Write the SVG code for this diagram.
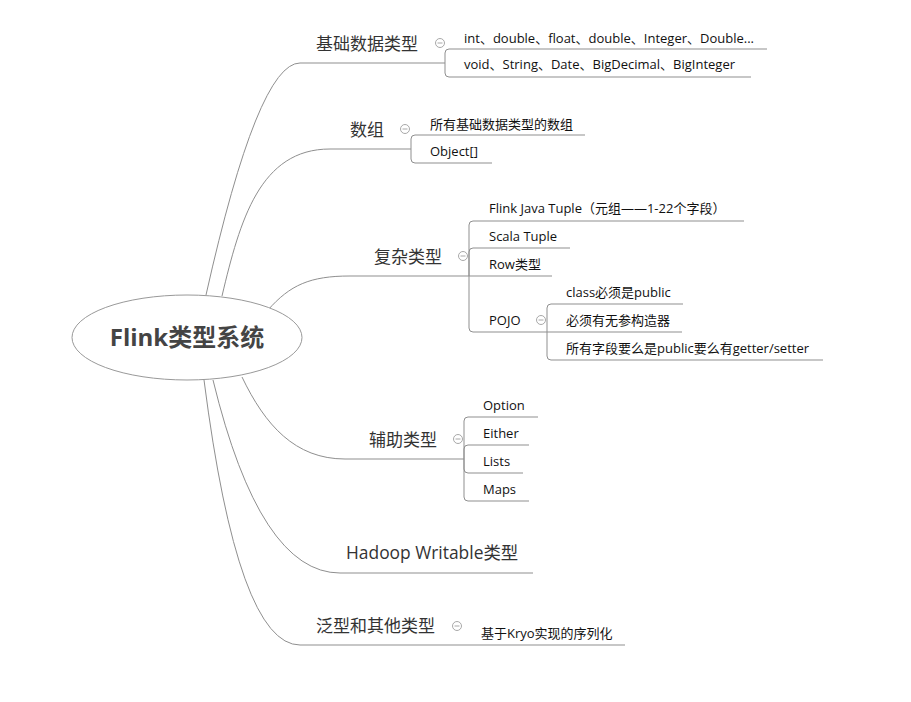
<svg xmlns="http://www.w3.org/2000/svg" width="911" height="702" viewBox="0 0 911 702">
<style>
.c{fill:none;stroke:#8f8f8f;stroke-width:1}
.t{font-family:"Open Sans","Noto Sans CJK SC",sans-serif;font-size:17px;fill:#333}
.s{font-family:"Open Sans","Noto Sans CJK SC",sans-serif;font-size:13px;fill:#111}
.m{font-family:"Open Sans","Noto Sans CJK SC",sans-serif;font-size:24px;font-weight:bold;fill:#444}
.k{fill:#fff;stroke:#a8a8a8;stroke-width:1}
.kl{stroke:#a8a8a8;stroke-width:1}
</style>
<defs>
<g id="col"><circle class="k" cx="0" cy="0" r="4.5"/><line class="kl" x1="-2.5" y1="0" x2="2.5" y2="0"/></g>
</defs>
<rect width="911" height="702" fill="#fff"/>
<g id="connectors">
<path class="c" d="M206,295 Q258,63 300,63 H445"/>
<path class="c" d="M222,296 C240,220 260,149 330,149 H411"/>
<path class="c" d="M268,310 C290,285 310,276 350,276 H469"/>
<path class="c" d="M242,377 C265,425 295,459 345,459 H464"/>
<path class="c" d="M213,380 Q260,573 340,573 H533"/>
<path class="c" d="M204,380 Q238,645 300,645 H625"/>
<path class="c" d="M445,63 V53 Q445,49 449,49 H767"/>
<path class="c" d="M445,63 V73 Q445,77 449,77 H751"/>
<path class="c" d="M411,149 V139 Q411,135 415,135 H585"/>
<path class="c" d="M411,149 V159 Q411,163 415,163 H492"/>
<path class="c" d="M469,276 V225 Q469,221 473,221 H744"/>
<path class="c" d="M469,276 V252 Q469,248 473,248 H570"/>
<path class="c" d="M469,276 H552"/>
<path class="c" d="M469,276 V328 Q469,332 473,332 H547"/>
<path class="c" d="M547,332 V308 Q547,304 551,304 H683"/>
<path class="c" d="M547,332 H682"/>
<path class="c" d="M547,332 V356 Q547,360 551,360 H823"/>
<path class="c" d="M464,459 V421 Q464,417 468,417 H538"/>
<path class="c" d="M464,459 V449 Q464,445 468,445 H529"/>
<path class="c" d="M464,459 V469 Q464,473 468,473 H523"/>
<path class="c" d="M464,459 V497 Q464,501 468,501 H529"/>
</g>
<g id="root">
<ellipse cx="187" cy="337.5" rx="115" ry="42.5" fill="#fff" stroke="#999" stroke-width="1"/>
<text class="m" x="187" y="346" text-anchor="middle">Flink类型系统</text>
</g>
<g id="basic">
<text class="t" x="316" y="50">基础数据类型</text>
<use href="#col" x="440" y="43"/>
</g>
<g id="basic-1"><text class="s" x="464" y="43">int、double、float、double、Integer、Double...</text></g>
<g id="basic-2"><text class="s" x="464" y="69">void、String、Date、BigDecimal、BigInteger</text></g>
<g id="array">
<text class="t" x="350" y="136">数组</text>
<use href="#col" x="405" y="129"/>
</g>
<g id="array-1"><text class="s" x="430" y="129">所有基础数据类型的数组</text></g>
<g id="array-2"><text class="s" x="430" y="156">Object[]</text></g>
<g id="complex">
<text class="t" x="374" y="263">复杂类型</text>
<use href="#col" x="463" y="256"/>
</g>
<g id="complex-1"><text class="s" x="489" y="213">Flink Java Tuple（元组——1-22个字段）</text></g>
<g id="complex-2"><text class="s" x="489" y="241">Scala Tuple</text></g>
<g id="complex-3"><text class="s" x="489" y="269">Row类型</text></g>
<g id="pojo">
<text class="s" x="489" y="325">POJO</text>
<use href="#col" x="541" y="320"/>
</g>
<g id="pojo-1"><text class="s" x="566" y="297">class必须是public</text></g>
<g id="pojo-2"><text class="s" x="566" y="325">必须有无参构造器</text></g>
<g id="pojo-3"><text class="s" x="566" y="353">所有字段要么是public要么有getter/setter</text></g>
<g id="aux">
<text class="t" x="369" y="446">辅助类型</text>
<use href="#col" x="458" y="439"/>
</g>
<g id="aux-1"><text class="s" x="483" y="410">Option</text></g>
<g id="aux-2"><text class="s" x="483" y="438">Either</text></g>
<g id="aux-3"><text class="s" x="483" y="466">Lists</text></g>
<g id="aux-4"><text class="s" x="483" y="494">Maps</text></g>
<g id="hadoop"><text class="t" x="346" y="559" style="font-size:17.4px">Hadoop Writable类型</text></g>
<g id="generic">
<text class="t" x="316" y="632">泛型和其他类型</text>
<use href="#col" x="457" y="626"/>
</g>
<g id="generic-1"><text class="s" x="481" y="638">基于Kryo实现的序列化</text></g>
</svg>
